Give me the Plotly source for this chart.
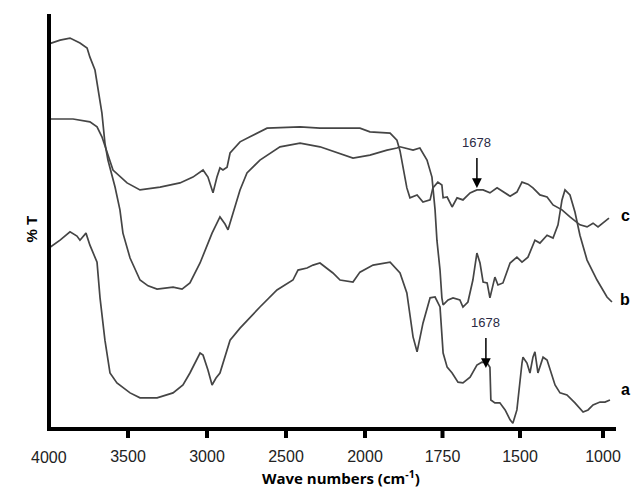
import numpy as np
import plotly.graph_objects as go

# FTIR spectra (wavenumber in cm-1, transmittance in arbitrary % units)
wn_a = [4000, 3930, 3867, 3823, 3804, 3766, 3741, 3696, 3677, 3646, 3614, 3570, 3487, 3424,
        3316, 3215, 3152, 3108, 3044, 3025, 2994, 2968, 2943, 2918, 2854, 2791, 2665, 2557,
        2456, 2424, 2367, 2329, 2285, 2203, 2158, 2076, 2032, 1974, 1919, 1887, 1865, 1845,
        1832, 1813, 1790, 1774, 1758, 1748, 1735, 1719, 1700, 1684, 1661, 1639, 1623, 1606,
        1597, 1594, 1581, 1565, 1548, 1532, 1523, 1510, 1488, 1482, 1458, 1440, 1422, 1410,
        1392, 1361, 1337, 1307, 1289, 1259, 1217, 1169, 1120, 1090, 1060, 1018, 988, 958]
t_a = [43.6, 45.5, 47.5, 46.5, 45.5, 47.2, 44.3, 40.2, 31.6, 21.4, 13.5, 11.1, 8.7, 7.5,
       7.5, 8.7, 10.6, 13.5, 18.3, 17.8, 14.2, 10.6, 12.3, 13.5, 21.4, 24.3, 29.4, 33.5,
       35.9, 38.3, 38.8, 39.5, 40.0, 37.6, 35.9, 35.4, 37.8, 39.5, 40.2, 37.6, 32.8, 22.2,
       18.6, 25.5, 31.6, 31.8, 29.4, 18.3, 14.9, 13.5, 11.3, 11.1, 12.5, 15.4, 16.1, 15.9,
       14.9, 7.0, 6.3, 6.3, 4.6, 2.2, 1.4, 4.6, 15.9, 17.3, 15.9, 13.5, 17.3, 18.6,
       13.5, 17.3, 16.6, 12.5, 10.6, 8.7, 8.2, 6.3, 4.1, 4.6, 5.8, 6.5, 6.5, 7.0]

wn_b = [4000, 3930, 3867, 3804, 3759, 3741, 3709, 3690, 3665, 3646, 3627, 3582, 3551, 3532,
        3487, 3424, 3373, 3316, 3215, 3158, 3108, 3044, 2968, 2918, 2886, 2867, 2835, 2791,
        2747, 2665, 2538, 2411, 2285, 2076, 1984, 1929, 1897, 1887, 1845, 1823, 1800, 1784,
        1774, 1768, 1758, 1752, 1748, 1732, 1716, 1694, 1684, 1668, 1652, 1639, 1629, 1619,
        1606, 1597, 1581, 1571, 1555, 1532, 1510, 1488, 1452, 1410, 1380, 1337, 1301, 1271,
        1247, 1229, 1199, 1169, 1139, 1096, 1036, 976, 946]
t_b = [92.8, 93.7, 94.2, 93.0, 91.8, 89.6, 86.5, 82.4, 76.1, 68.9, 64.8, 58.3, 52.8, 47.2,
       41.2, 35.9, 34.5, 33.7, 34.2, 33.7, 35.2, 40.0, 47.2, 51.1, 49.4, 48.0, 52.0, 57.6,
       61.7, 64.8, 68.0, 68.9, 68.0, 65.3, 66.0, 67.2, 67.7, 68.0, 67.2, 67.7, 64.8, 60.7,
       52.8, 45.5, 38.3, 31.6, 29.9, 31.1, 31.6, 31.1, 29.4, 30.6, 35.9, 42.4, 40.0, 35.4,
       35.2, 31.6, 36.6, 34.7, 35.2, 40.0, 41.4, 40.2, 41.4, 45.5, 44.8, 46.7, 46.0, 49.2,
       55.2, 57.6, 56.4, 52.3, 46.7, 40.7, 35.9, 31.8, 30.6]

wn_c = [4000, 3848, 3741, 3696, 3665, 3633, 3595, 3506, 3424, 3297, 3171, 3089, 3025, 2994,
        2962, 2937, 2918, 2899, 2873, 2854, 2791, 2728, 2620, 2411, 2285, 2032, 1984, 1919,
        1897, 1887, 1877, 1865, 1855, 1832, 1813, 1790, 1781, 1765, 1752, 1748, 1735, 1719,
        1703, 1684, 1661, 1639, 1619, 1597, 1574, 1555, 1532, 1510, 1488, 1452, 1422, 1380,
        1337, 1301, 1247, 1199, 1139, 1096, 1060, 1030, 1000, 964]
t_c = [74.7, 74.7, 74.0, 72.8, 70.4, 66.5, 62.4, 59.3, 57.6, 58.3, 59.3, 60.7, 62.4, 60.7,
       56.9, 60.7, 62.9, 62.4, 63.1, 66.5, 69.2, 70.4, 72.5, 72.8, 72.5, 72.5, 71.6, 71.3,
       69.6, 67.0, 62.9, 58.1, 55.7, 56.4, 54.7, 55.2, 58.1, 59.5, 58.8, 55.7, 55.9, 53.5,
       55.7, 55.2, 56.9, 57.6, 57.6, 56.9, 58.1, 57.1, 56.1, 57.1, 59.5, 59.0, 58.1, 56.4,
       55.9, 54.0, 52.8, 51.1, 49.2, 48.7, 49.6, 48.7, 49.6, 50.8]

series_names = ["a", "b", "c"]
tick_values = [4000, 3500, 3000, 2500, 2000, 1750, 1500, 1000]
peak_label = "1678"
# arrow tips: (wavenumber, transmittance) on curves c and a
arrow_c = (1639, 58.1)
arrow_a = (1610, 14.7)


def axis_pos(wn):
    """Piecewise scale: compressed above 2000 cm-1, expanded 2000-1500, then 1500-1000."""
    wn = np.asarray(wn, dtype=float)
    pos = np.where(wn >= 2000, (4000 - wn) * 316 / 2000,
                   np.where(wn >= 1500, 316 + (2000 - wn) * 155 / 500,
                            471 + (1500 - wn) * 83 / 500))
    return pos.tolist()


# Page geometry: the plot area reaches a little past the axis frame so the
# heavy frame and its tick marks sit inside it.
W, H = 639, 487
L, R, T, B = 45, 23, 14, 47
AX_X0 = 49            # px of the 4000 cm-1 edge
AX_Y0 = 429           # px of the baseline
PX_PER_T = 4.15       # px per transmittance unit


def y_from_px(py):
    return (AX_Y0 - py) / PX_PER_T


def paper_x(px):
    return (px - L) / (W - L - R)


def paper_y(py):
    return (H - B - py) / (H - T - B)


x_range = [L - AX_X0, W - R - AX_X0]
y_range = [y_from_px(H - B), y_from_px(T)]

line_style = dict(color="#454545", width=1.7)
fig = go.Figure()
for wn, t in [(wn_a, t_a), (wn_b, t_b), (wn_c, t_c)]:
    fig.add_trace(go.Scatter(x=axis_pos(wn), y=list(t), mode="lines", line=line_style,
                             showlegend=False, hoverinfo="skip"))

tick_font = dict(family="Liberation Sans, Arial", size=16, color="#222")
fig.update_layout(
    width=W, height=H,
    margin=dict(l=L, r=R, t=T, b=B),
    plot_bgcolor="white", paper_bgcolor="white",
    xaxis=dict(range=x_range, showgrid=False, zeroline=False, showline=False,
               ticks="outside", ticklen=2, tickwidth=1, tickcolor="rgba(0,0,0,0)",
               tickmode="array",
               tickvals=axis_pos(tick_values[1:]),
               ticktext=[str(v) for v in tick_values[1:]],
               tickfont=tick_font),
    yaxis=dict(range=y_range, showgrid=False, zeroline=False, showticklabels=False,
               showline=False, ticks=""),
)

# heavy black axis frame (left and bottom) with downward tick marks
frame = dict(type="rect", xref="x", yref="y", fillcolor="black",
             line=dict(width=0), layer="above")
x_right = x_range[1]
fig.add_shape(x0=-2, x1=2, y0=y_from_px(AX_Y0 + 2), y1=y_range[1], **frame)
fig.add_shape(x0=-2, x1=x_right, y0=y_from_px(AX_Y0 + 2), y1=y_from_px(AX_Y0 - 2), **frame)
for xp in axis_pos(tick_values[1:]):
    fig.add_shape(x0=xp - 2, x1=xp + 2, y0=y_from_px(AX_Y0 + 9), y1=0, **frame)

# 4000 label at the axis corner (no tick mark there)
fig.add_annotation(x=axis_pos([tick_values[0]])[0], y=paper_y(457), xref="x", yref="paper",
                   text=str(tick_values[0]), showarrow=False, yanchor="middle",
                   font=tick_font)

# axis titles
fig.add_annotation(x=paper_x(341), y=paper_y(477), xref="paper", yref="paper",
                   text="<b>Wave numbers (cm<sup>-1</sup>)</b>", showarrow=False,
                   yanchor="middle",
                   font=dict(family="Open Sans, Arial", size=15, color="black"))
fig.add_annotation(x=paper_x(20), y=paper_y(229), xref="paper", yref="paper",
                   text="<b>% T</b>", textangle=-90, showarrow=False,
                   font=dict(family="Liberation Sans, Arial", size=15, color="black"))

# curve labels
for name, py in zip(series_names, [400, 310, 215]):
    fig.add_annotation(x=paper_x(632), y=paper_y(py), xref="paper", yref="paper",
                       text=f"<b>{name}</b>", showarrow=False,
                       font=dict(family="Liberation Sans, Arial", size=16, color="black"))

# peak markers: label above, arrow pointing down onto the curve
for wn, t in [arrow_c, arrow_a]:
    fig.add_annotation(x=axis_pos([wn])[0], y=t, xref="x", yref="y", text=peak_label,
                       showarrow=True, ax=0, ay=-36, yanchor="bottom", startstandoff=6,
                       arrowhead=2, arrowsize=1.3, arrowwidth=1.5, arrowcolor="black",
                       font=dict(family="Liberation Sans, Arial", size=13, color="#2a2a44"))

fig.write_html("out.html")
